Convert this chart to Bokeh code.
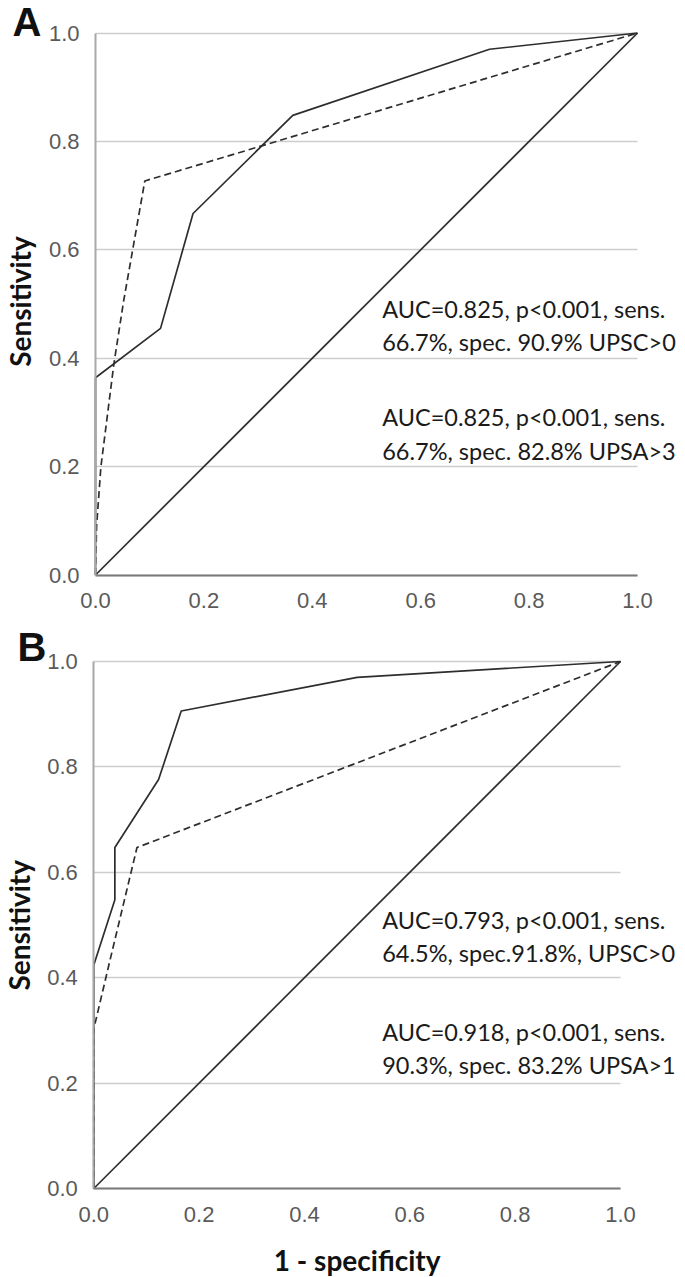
import math
from bokeh.plotting import figure
from bokeh.layouts import column
from bokeh.models import Label, FixedTicker, Range1d, NumeralTickFormatter
from bokeh.embed import file_html
from bokeh.resources import INLINE

# ---- data ----
ticks = [0.0, 0.2, 0.4, 0.6, 0.8, 1.0]

# Panel A
a_upsa_x = [0.0, 0.0, 0.12, 0.18, 0.364, 0.727, 1.0]
a_upsa_y = [0.0, 0.364, 0.455, 0.667, 0.848, 0.970, 1.0]
a_upsc_x = [0.0, 0.002, 0.010, 0.034, 0.052, 0.091, 1.0]
a_upsc_y = [0.0, 0.090, 0.200, 0.390, 0.506, 0.727, 1.0]
a_notes = ["AUC=0.825, p<0.001, sens.", "66.7%, spec. 90.9% UPSC>0",
           "AUC=0.825, p<0.001, sens.", "66.7%, spec. 82.8% UPSA>3"]

# Panel B
b_upsa_x = [0.0, 0.0, 0.040, 0.040, 0.123, 0.166, 0.50, 1.0]
b_upsa_y = [0.0, 0.424, 0.548, 0.647, 0.776, 0.906, 0.970, 1.0]
b_upsc_x = [0.0, 0.0, 0.030, 0.082, 1.0]
b_upsc_y = [0.0, 0.303, 0.430, 0.647, 1.0]
b_notes = ["AUC=0.793, p<0.001, sens.", "64.5%, spec.91.8%, UPSC>0",
           "AUC=0.918, p<0.001, sens.", "90.3%, spec. 83.2% UPSA>1"]

ref_x = [0.0, 1.0]
ref_y = [0.0, 1.0]

LINE = "#2e2e2e"
W = 680


def panel(letter, height, x0_px, xs, y0_px, ys, upsa, upsc, notes, note_x, note_y,
          letter_pos, ylab_pos, xlabel=None, xlab_y=None):
    # pixel geometry inside the canvas: data 0 at x0_px / y0_px (from top), scale xs / ys
    x_lo = -x0_px / xs
    x_hi = x_lo + W / xs
    y_hi = y0_px / ys
    y_lo = y_hi - height / ys
    p = figure(width=W, height=height, x_range=Range1d(x_lo, x_hi),
               y_range=Range1d(y_lo, y_hi), output_backend="svg",
               toolbar_location=None, title=None,
               min_border_left=0, min_border_right=0, min_border_top=0,
               min_border_bottom=0)
    p.outline_line_color = None
    p.xgrid.grid_line_color = None
    p.ygrid.ticker = FixedTicker(ticks=ticks)
    p.ygrid.cross_bounds = (0, 1)
    p.ygrid.grid_line_color = "#cdcdcd"
    p.ygrid.grid_line_width = 1.6
    for ax in (p.xaxis, p.yaxis):
        ax.ticker = FixedTicker(ticks=ticks)
        ax.formatter = NumeralTickFormatter(format="0.0")
        ax.major_tick_line_color = None
        ax.minor_tick_line_color = None
        ax.major_label_text_font = "Liberation Sans"
        ax.major_label_text_font_size = "22px"
        ax.major_label_text_color = "#5a5a5a"
        ax.axis_line_width = 2
        ax.bounds = (0, 1)
        ax.fixed_location = 0
    p.yaxis.axis_line_color = "#a8a8a8"
    p.xaxis.axis_line_color = "#7a7a7a"
    p.yaxis.major_label_standoff = 10
    p.xaxis.major_label_standoff = 12

    p.line(ref_x, ref_y, line_color=LINE, line_width=1.7)
    p.line(upsc[0], upsc[1], line_color=LINE, line_width=1.7, line_dash="7 4")
    p.line(upsa[0], upsa[1], line_color=LINE, line_width=1.7)

    for t, yy in zip(notes, note_y):
        p.add_layout(Label(x=note_x, y=yy, text=t, text_font="Lato",
                           text_font_size="23.5px", text_color="#1a1a1a",
                           text_baseline="middle", text_align="left"))

    p.add_layout(Label(x=letter_pos[0], y=letter_pos[1], text=letter,
                       text_font="Liberation Sans", text_font_style="bold",
                       text_font_size="40px", text_color="#111111",
                       text_baseline="middle", text_align="left"))
    p.add_layout(Label(x=ylab_pos[0], y=ylab_pos[1], text="Sensitivity",
                       angle=math.pi / 2, text_font="Lato", text_font_style="bold",
                       text_font_size="28px", text_color="#111111",
                       text_align="center", text_baseline="middle"))
    if xlabel:
        p.add_layout(Label(x=0.5, y=xlab_y, text=xlabel, text_font="Lato",
                           text_font_style="bold", text_font_size="28px",
                           text_color="#111111", text_align="center",
                           text_baseline="middle"))
    return p


# Panel A: canvas x 95 -> data 0, y 574.5 px from top -> data 0, 542 px per unit
pa = panel("A", 619, 95, 542, 574.5, 542,
           (a_upsa_x, a_upsa_y), (a_upsc_x, a_upsc_y),
           a_notes, 0.529, [0.4908, 0.4293, 0.2906, 0.2291],
           (-0.1531, 1.0212), (-0.1402, 0.5046))
# Panel B: canvas x 93.3 -> data 0, y 569 px from its top -> data 0, ~527 px per unit
pb = panel("B", 658, 93.3, 526.7, 569, 527,
           (b_upsa_x, b_upsa_y), (b_upsc_x, b_upsc_y),
           b_notes, 0.5476, [0.5094, 0.4460, 0.2974, 0.2341],
           (-0.1449, 1.0266), (-0.1411, 0.4995),
           xlabel="1 - specificity", xlab_y=-0.1366)

layout = column(pa, pb, spacing=0)
open("out.html", "w").write(file_html(layout, INLINE))
